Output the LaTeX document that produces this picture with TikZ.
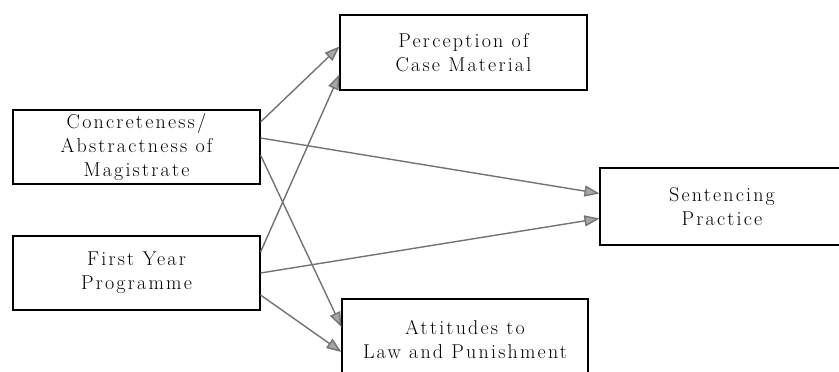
\documentclass[tikz,border=0pt]{standalone}
\usepackage{fontspec}
\setmainfont{Latin Modern Roman}[LetterSpace=11]
\usetikzlibrary{arrows.meta}
\begin{document}
\begin{tikzpicture}[x=1pt,y=-1pt,
  box/.style={draw, line width=1.1pt, align=center, inner sep=0pt, font=\fontsize{20}{24}\selectfont},
  link/.style={draw=black!55, line width=1.4pt, -{Triangle[length=15pt,width=11pt,fill=black!35]}}]
\useasboundingbox (0,0) rectangle (839,372);
\node[box, minimum width=247pt, minimum height=74pt] (concrete) at (136.5,147){Concreteness/\\Abstractness of\\Magistrate};
\node[box, minimum width=247pt, minimum height=74pt] (firstyear) at (136.5,273){First Year\\Programme};
\node[box, minimum width=247pt, minimum height=75pt] (perception) at (463.5,52.5){Perception of\\Case Material};
\node[box, minimum width=246pt, minimum height=82pt] (attitudes) at (465,340){Attitudes to\\Law and Punishment};
\node[box, minimum width=244pt, minimum height=77pt] (sentencing) at (722,206.5){Sentencing\\Practice};
\draw[link]([yshift=25pt]concrete.east) -- ([yshift=6pt]perception.west);
\draw[link]([yshift=21pt]firstyear.east) -- ([yshift=-22pt]perception.west);
\draw[link]([yshift=9pt]concrete.east) -- ([yshift=13pt]sentencing.west);
\draw[link](firstyear.east) -- ([yshift=-12pt]sentencing.west);
\draw[link]([yshift=-8pt]concrete.east) -- ([yshift=13pt]attitudes.west);
\draw[link]([yshift=-22pt]firstyear.east) -- ([yshift=-12pt]attitudes.west);
\end{tikzpicture}
\end{document}
